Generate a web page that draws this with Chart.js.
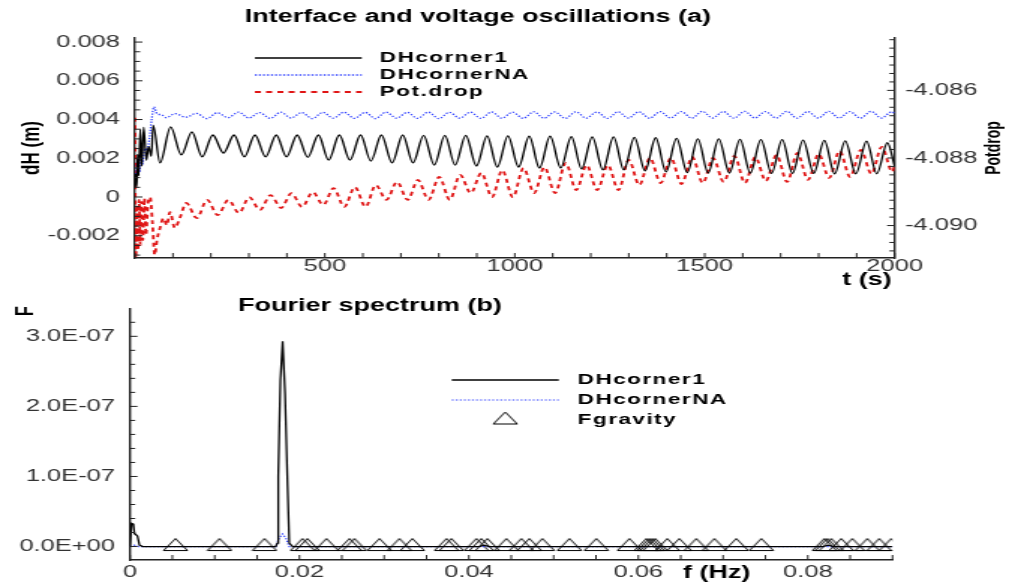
<!DOCTYPE html>
<html>
<head>
<meta charset="utf-8">
<script src="https://cdn.jsdelivr.net/npm/chart.js@4.4.1/dist/chart.umd.min.js"></script>
<style>
    html, body { margin: 0; padding: 0; background: #fff; }
    #wrap { position: relative; width: 1009px; height: 586px; overflow: hidden; }
    canvas { position: absolute; left: 0; }
</style>
</head>
<body>
<div id="wrap">
    <!-- drawn narrow, then stretched sideways like the original plot -->
    <canvas id="chartTop" width="673" height="290" style="top:0;width:1009px;height:290px"></canvas>
    <canvas id="chartBottom" width="673" height="296" style="top:290px;width:1009px;height:296px"></canvas>
</div>
<script>
// ---- (a) time series, t in s ----
const tBlack = [
    1, 3, 5, 7, 10, 14, 18, 23, 30, 36, 43, 48, 66,
    94, 122, 150, 177, 205, 233, 261, 288, 316, 344,
    372, 399, 427, 455, 483, 510, 538, 566, 594, 621,
    649, 677, 705, 732, 760, 788, 816, 843, 871, 899,
    927, 954, 982, 1010, 1038, 1065, 1093, 1121, 1149, 1176,
    1204, 1232, 1260, 1287, 1315, 1343, 1371, 1398, 1426, 1454,
    1482, 1509, 1537, 1565, 1593, 1620, 1648, 1676, 1704, 1731,
    1759, 1787, 1815, 1842, 1870, 1898, 1926, 1953, 1981, 2000
];
const dhCorner1 = [
    0.0012, 0.0005, 0.0008, 0.0022, 0.0011, 0.0035, 0.0016, 0.0036, 0.0019, 0.0026, 0.0021, 0.0037, 0.00176,
    0.00362, 0.00217, 0.00336, 0.00207, 0.0032, 0.00227, 0.0032, 0.00207, 0.0032, 0.00207,
    0.0032, 0.00207, 0.0032, 0.00205, 0.0032, 0.00191, 0.0032, 0.00191, 0.0032, 0.00186,
    0.0032, 0.00176, 0.0032, 0.00176, 0.00318, 0.00165, 0.00318, 0.00165, 0.00318, 0.0016,
    0.00316, 0.00155, 0.00316, 0.00155, 0.00314, 0.0015, 0.00314, 0.0015, 0.00312, 0.00145,
    0.0031, 0.0014, 0.0031, 0.0014, 0.00308, 0.00135, 0.00306, 0.0013, 0.00303, 0.00126,
    0.003, 0.00124, 0.003, 0.00124, 0.00298, 0.00124, 0.00296, 0.00122, 0.00296, 0.00122,
    0.00294, 0.00122, 0.00292, 0.0012, 0.0029, 0.0012, 0.00288, 0.0012, 0.0028, 0.0016
];

const tBlue = [
    1, 4, 8, 12, 16, 20, 26, 32, 38, 44, 50, 58, 70, 82,
    106, 134, 162, 189, 217, 245, 273, 300, 328, 356,
    384, 411, 439, 467, 495, 522, 550, 578, 606, 633,
    661, 689, 717, 744, 772, 800, 828, 855, 883, 911,
    939, 966, 994, 1022, 1050, 1077, 1105, 1133, 1161, 1188,
    1216, 1244, 1272, 1299, 1327, 1355, 1383, 1410, 1438, 1466,
    1494, 1521, 1549, 1577, 1605, 1632, 1660, 1688, 1716, 1743,
    1771, 1799, 1827, 1854, 1882, 1910, 1938, 1965, 1993, 2000
];
const dhCornerNA = [
    0.0009, 0.0014, 0.0020, 0.0013, 0.0022, 0.0017, 0.0025, 0.0024, 0.0030, 0.0040, 0.00465, 0.0043, 0.00425, 0.0041,
    0.0043, 0.00412, 0.00432, 0.00405, 0.00435, 0.0041, 0.00438, 0.00408, 0.00436, 0.00406,
    0.00438, 0.00408, 0.00436, 0.00405, 0.00437, 0.00407, 0.00438, 0.00406, 0.00437, 0.00405,
    0.00438, 0.00407, 0.00437, 0.00406, 0.00438, 0.00405, 0.00437, 0.00407, 0.00438, 0.00406,
    0.00439, 0.00407, 0.00438, 0.00406, 0.0044, 0.00407, 0.00439, 0.00406, 0.0044, 0.00407,
    0.00439, 0.00406, 0.0044, 0.00408, 0.0044, 0.00407, 0.00441, 0.00408, 0.00441, 0.00407,
    0.00442, 0.00408, 0.00441, 0.00407, 0.00442, 0.00408, 0.00441, 0.00408, 0.00442, 0.00407,
    0.00441, 0.00408, 0.00442, 0.00408, 0.00441, 0.00407, 0.00442, 0.00408, 0.0044, 0.00432
];

const tRed = [
    0, 2, 5, 8, 11, 14, 17, 21, 25, 29, 34, 40, 46, 52, 58, 66, 75, 84, 92, 105, 118,
    135, 163, 190, 218, 246, 274, 301, 329, 357, 385,
    412, 440, 468, 496, 523, 551, 579, 607, 634, 662,
    690, 718, 745, 773, 801, 829, 856, 884, 912, 940,
    967, 995, 1023, 1051, 1078, 1106, 1134, 1162, 1189, 1217,
    1245, 1273, 1300, 1328, 1356, 1384, 1411, 1439, 1467, 1495,
    1522, 1550, 1578, 1606, 1633, 1661, 1689, 1717, 1744, 1772,
    1800, 1828, 1855, 1883, 1911, 1939, 1966, 1994, 2000
];
const potDrop = [
    -4.08681, -4.09117, -4.08939, -4.09073, -4.08924, -4.09058, -4.0893, -4.09043, -4.08919, -4.09028, -4.08939,
    -4.08916, -4.0899, -4.09087, -4.09043, -4.09007, -4.08978, -4.08999, -4.0896, -4.09007, -4.08978,
    -4.08933, -4.08978, -4.08924, -4.08969, -4.08924, -4.08963, -4.08916, -4.08954, -4.0891, -4.08948,
    -4.08904, -4.08945, -4.08901, -4.08939, -4.08889, -4.08945, -4.08886, -4.08945, -4.0888, -4.08924,
    -4.08871, -4.08924, -4.08865, -4.08924, -4.08856, -4.08924, -4.0885, -4.08904, -4.08844, -4.08916,
    -4.08836, -4.08916, -4.0883, -4.08904, -4.08827, -4.08904, -4.08815, -4.08895, -4.08821, -4.08895,
    -4.08821, -4.08895, -4.08806, -4.0888, -4.088, -4.08874, -4.088, -4.08877, -4.08797, -4.08874,
    -4.088, -4.08871, -4.08794, -4.08874, -4.08797, -4.08868, -4.08791, -4.08871, -4.08785, -4.08865,
    -4.08788, -4.08859, -4.08779, -4.08856, -4.08776, -4.08847, -4.08767, -4.08841, -4.08821
];

// ---- (b) Fourier spectrum, f in Hz ----
const freq1 = [0, 0.00018, 0.0004, 0.00053, 0.0006, 0.00088, 0.00112, 0.0015, 0.0172, 0.0174, 0.0175, 0.01775,
    0.01802, 0.0183, 0.0186, 0.0188, 0.0192, 0.0412, 0.0418, 0.0424, 0.0818, 0.0824, 0.083, 0.09];
const amp1 = [0, 3.3e-8, 3.2e-8, 1.8e-8, 1.8e-8, 1.5e-8, 0.2e-8, 0, 0, 0.5e-8, 1.0e-7, 2.37e-7,
    2.93e-7, 2.18e-7, 0.86e-7, 0.5e-8, 0, 0, 0.2e-8, 0, 0, 0.2e-8, 0, 0];

const freqNA = [0, 0.0005, 0.001, 0.0172, 0.0176, 0.018, 0.0184, 0.0188, 0.09];
const ampNA = [0, 0.2e-8, 0, 0, 1.2e-8, 1.8e-8, 1.2e-8, 0, 0];

const fGravity = [0.00537, 0.01056, 0.01587, 0.02035, 0.02094, 0.02319, 0.0259, 0.02649, 0.02944, 0.0318,
    0.03333, 0.03735, 0.03794, 0.04088, 0.04147, 0.04218, 0.04442, 0.04619, 0.04714, 0.04867,
    0.05186, 0.05504, 0.05894, 0.06094, 0.0613, 0.06165, 0.062, 0.06342, 0.06484, 0.06684,
    0.06897, 0.07156, 0.07451, 0.08195, 0.0823, 0.08277, 0.08395, 0.08525, 0.08702, 0.08843, 0.08985];
const ampGravity = [0, 0, 0, 0, 0, 0, 0, 0, 0, 0,
    0, 0, 0, 0, 0, 0, 0, 0, 0, 0,
    0, 0, 0, 0, 0, 0, 0, 0, 0, 0,
    0, 0, 0, 0, 0, 0, 0, 0, 0, 0, 0];

const FONT = "'Liberation Sans', Arial, sans-serif";

function toPoints(xs, ys) {
    return xs.map(function (x, i) { return { x: x, y: ys[i] }; });
}

// evenly spaced tick list (minor ticks), labels are filtered in callbacks
function stepTicks(min, max, step) {
    const out = [];
    for (let i = Math.ceil(min / step - 1e-9); i * step <= max + 1e-12; i++) {
        out.push({ value: +(i * step).toPrecision(12) });
    }
    return out;
}

function isMultiple(v, m) {
    return Math.abs(v / m - Math.round(v / m)) < 1e-6;
}

function sciLabel(v) {
    if (Math.abs(v) < 1e-12) return '0.0E+00';
    const parts = v.toExponential(1).split('e');
    const exp = parseInt(parts[1], 10);
    const sign = exp < 0 ? '-' : '+';
    return parts[0] + 'E' + sign + String(Math.abs(exp)).padStart(2, '0');
}

function makeTriangle() {
    const c = document.createElement('canvas');
    c.width = 18;
    c.height = 17;
    const g = c.getContext('2d');
    g.strokeStyle = '#000';
    g.lineWidth = 1;
    g.beginPath();
    g.moveTo(1, 12.5);
    g.lineTo(9, 0.5);
    g.lineTo(17, 12.5);
    g.closePath();
    g.stroke();
    return c;
}
const triangle = makeTriangle();

// tick marks pointing into the plot
const inwardTicks = {
    id: 'inwardTicks',
    afterDraw(chart, args, opts) {
        const ctx = chart.ctx;
        ctx.save();
        ctx.strokeStyle = '#222';
        ctx.lineWidth = 1;
        Object.values(chart.scales).forEach(function (scale) {
            const pos = scale.options.position;
            scale.ticks.forEach(function (tick) {
                const len = tick.label !== '' ? opts.major : opts.minor;
                const p = scale.getPixelForValue(tick.value);
                ctx.beginPath();
                if (pos === 'left') {
                    ctx.moveTo(scale.right, p);
                    ctx.lineTo(scale.right + len, p);
                } else if (pos === 'right') {
                    ctx.moveTo(scale.left, p);
                    ctx.lineTo(scale.left - len, p);
                } else {
                    ctx.moveTo(p, scale.top);
                    ctx.lineTo(p, scale.top - opts.vertical);
                }
                ctx.stroke();
            });
        });
        ctx.restore();
    }
};

// free text: titles and axis names
const notes = {
    id: 'notes',
    afterDraw(chart, args, opts) {
        const ctx = chart.ctx;
        opts.items.forEach(function (n) {
            ctx.save();
            ctx.font = n.font;
            ctx.fillStyle = '#000';
            ctx.textAlign = n.align || 'center';
            ctx.textBaseline = 'middle';
            ctx.translate(n.x, n.y);
            if (n.rotate) ctx.rotate(n.rotate);
            ctx.fillText(n.text, 0, 0);
            ctx.restore();
        });
    }
};

// legend with a line sample in front of each name
const sampleLegend = {
    id: 'sampleLegend',
    afterDraw(chart, args, opts) {
        const ctx = chart.ctx;
        chart.data.datasets.forEach(function (ds, i) {
            const y = opts.rows[i];
            ctx.save();
            if (ds.showLine === false) {
                ctx.drawImage(ds.pointStyle, (opts.x0 + opts.x1) / 2 - ds.pointStyle.width / 2, y - ds.pointStyle.height / 2);
            } else {
                ctx.strokeStyle = ds.borderColor;
                ctx.lineWidth = ds.borderWidth;
                ctx.setLineDash(ds.borderDash || []);
                ctx.beginPath();
                ctx.moveTo(opts.x0, y);
                ctx.lineTo(opts.x1, y);
                ctx.stroke();
            }
            ctx.setLineDash([]);
            ctx.font = 'bold 15px ' + FONT;
            ctx.letterSpacing = '1px';
            ctx.fillStyle = '#000';
            ctx.textAlign = 'left';
            ctx.textBaseline = 'middle';
            ctx.fillText(ds.label, opts.textX, y);
            ctx.restore();
        });
    }
};

const tickFont = { family: FONT, size: 17, lineHeight: 1 };
const axisBorder = { display: true, color: '#222', width: 1.4 };

new Chart(document.getElementById('chartTop'), {
    type: 'scatter',
    data: {
        datasets: [
            {
                label: 'DHcorner1',
                data: toPoints(tBlack, dhCorner1),
                yAxisID: 'y',
                showLine: true,
                borderColor: '#000',
                borderWidth: 1.3,
                pointRadius: 0,
                cubicInterpolationMode: 'monotone'
            },
            {
                label: 'DHcornerNA',
                data: toPoints(tBlue, dhCornerNA),
                yAxisID: 'y',
                showLine: true,
                borderColor: '#3344ff',
                borderWidth: 1.3,
                borderDash: [1.3, 1.4],
                pointRadius: 0,
                cubicInterpolationMode: 'monotone'
            },
            {
                label: 'Pot.drop',
                data: toPoints(tRed, potDrop),
                yAxisID: 'y1',
                showLine: true,
                borderColor: '#e01515',
                borderWidth: 1.8,
                borderDash: [4, 3.5],
                pointRadius: 0,
                cubicInterpolationMode: 'monotone'
            }
        ]
    },
    options: {
        responsive: false,
        devicePixelRatio: 1,
        animation: false,
        layout: { padding: { top: 38, left: 0, right: 0, bottom: 0 } },
        plugins: {
            legend: { display: false },
            tooltip: { enabled: false },
            inwardTicks: { major: 5, minor: 3.5, vertical: 5 },
            sampleLegend: { x0: 170, x1: 241.3, textX: 253.3, rows: [58, 75, 92] },
            notes: {
                items: [
                    { text: 'Interface and voltage oscillations (a)', x: 318.7, y: 17, font: 'bold 18px ' + FONT },
                    { text: 'dH (m)', x: 21.3, y: 148, rotate: -Math.PI / 2, font: 'bold 17px ' + FONT },
                    { text: 'Potdrop', x: 663.3, y: 148, rotate: -Math.PI / 2, font: 'bold 14px ' + FONT },
                    { text: 't (s)', x: 594.7, y: 280, align: 'right', font: 'bold 18px ' + FONT }
                ]
            }
        },
        scales: {
            x: {
                type: 'linear',
                position: 'bottom',
                min: 0,
                max: 2000,
                grid: { display: false, drawTicks: false },
                border: axisBorder,
                afterBuildTicks: function (s) { s.ticks = stepTicks(0, 2000, 100); },
                afterFit: function (s) { s.height = 32; },
                ticks: {
                    autoSkip: false,
                    maxRotation: 0,
                    padding: 0,
                    color: '#333',
                    font: tickFont,
                    callback: function (v) { return v > 0 && isMultiple(v, 500) ? String(v) : ''; }
                }
            },
            y: {
                type: 'linear',
                position: 'left',
                min: -0.00315,
                max: 0.00821,
                grid: { display: false, drawTicks: false },
                border: axisBorder,
                afterBuildTicks: function (s) { s.ticks = stepTicks(-0.00315, 0.00821, 0.0005); },
                afterFit: function (s) { s.width = 90; },
                ticks: {
                    autoSkip: false,
                    padding: 10,
                    color: '#333',
                    font: tickFont,
                    callback: function (v) {
                        if (!isMultiple(v, 0.002)) return '';
                        return Math.abs(v) < 1e-9 ? '0' : v.toFixed(3);
                    }
                }
            },
            y1: {
                type: 'linear',
                position: 'right',
                min: -4.09096,
                max: -4.08445,
                grid: { display: false, drawTicks: false },
                border: axisBorder,
                afterBuildTicks: function (s) { s.ticks = stepTicks(-4.09096, -4.08445, 0.00025); },
                afterFit: function (s) { s.width = 76.3; },
                ticks: {
                    autoSkip: false,
                    padding: 7,
                    color: '#333',
                    font: tickFont,
                    callback: function (v) { return isMultiple(v, 0.002) ? v.toFixed(3) : ''; }
                }
            }
        }
    },
    plugins: [inwardTicks, notes, sampleLegend]
});

new Chart(document.getElementById('chartBottom'), {
    type: 'scatter',
    data: {
        datasets: [
            {
                label: 'DHcorner1',
                data: toPoints(freq1, amp1),
                showLine: true,
                borderColor: '#000',
                borderWidth: 1.3,
                pointRadius: 0
            },
            {
                label: 'DHcornerNA',
                data: toPoints(freqNA, ampNA),
                showLine: true,
                borderColor: '#3344ff',
                borderWidth: 1.2,
                borderDash: [1.3, 1.4],
                pointRadius: 0
            },
            {
                label: 'Fgravity',
                data: toPoints(fGravity, ampGravity),
                showLine: false,
                pointStyle: triangle,
                pointRadius: 6
            }
        ]
    },
    options: {
        responsive: false,
        devicePixelRatio: 1,
        animation: false,
        layout: { padding: { top: 8, left: 0, right: 77.7, bottom: 0 } },
        plugins: {
            legend: { display: false },
            tooltip: { enabled: false },
            inwardTicks: { major: 5, minor: 3.5, vertical: 5 },
            sampleLegend: { x0: 301.3, x1: 372.7, textX: 385.3, rows: [90, 110, 130] },
            notes: {
                items: [
                    { text: 'Fourier spectrum (b)', x: 246.7, y: 16, font: 'bold 18px ' + FONT },
                    { text: 'F', x: 17.3, y: 21, rotate: -Math.PI / 2, font: 'bold 16px ' + FONT },
                    { text: 'f (Hz)', x: 478, y: 283.5, font: 'bold 18px ' + FONT }
                ]
            }
        },
        scales: {
            x: {
                type: 'linear',
                position: 'bottom',
                min: 0,
                max: 0.09,
                grid: { display: false, drawTicks: false },
                border: axisBorder,
                afterBuildTicks: function (s) { s.ticks = stepTicks(0, 0.09, 0.005); },
                afterFit: function (s) { s.height = 26; },
                ticks: {
                    autoSkip: false,
                    maxRotation: 0,
                    padding: 4,
                    color: '#333',
                    font: tickFont,
                    callback: function (v) {
                        if (!isMultiple(v, 0.02)) return '';
                        return Math.abs(v) < 1e-9 ? '0' : v.toFixed(2);
                    }
                }
            },
            y: {
                type: 'linear',
                position: 'left',
                min: -1.92e-8,
                max: 3.397e-7,
                grid: { display: false, drawTicks: false },
                border: axisBorder,
                afterBuildTicks: function (s) { s.ticks = stepTicks(-1.92e-8, 3.397e-7, 2e-8); },
                afterFit: function (s) { s.width = 86.7; },
                ticks: {
                    autoSkip: false,
                    padding: 10,
                    color: '#333',
                    font: tickFont,
                    callback: function (v) { return isMultiple(v, 1e-7) ? sciLabel(v) : ''; }
                }
            }
        }
    },
    plugins: [inwardTicks, notes, sampleLegend]
});
</script>
</body>
</html>
